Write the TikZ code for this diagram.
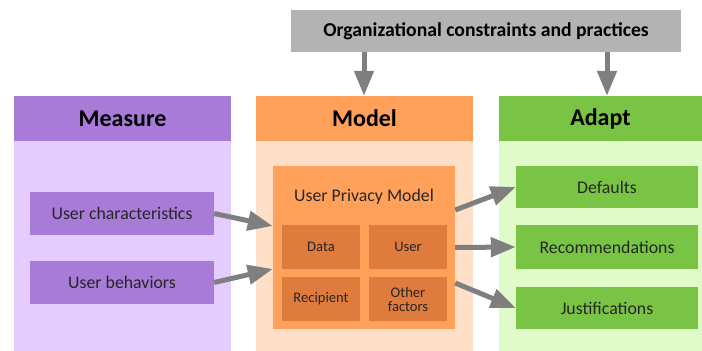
\documentclass[tikz,border=0pt]{standalone}
\usepackage{fontspec}
\setmainfont{Carlito}
\usetikzlibrary{arrows.meta}
\usetikzlibrary{positioning}
\definecolor{measure}{HTML}{A77BD7}
\definecolor{measurebg}{HTML}{E5CCFF}
\definecolor{model}{HTML}{FFA05B}
\definecolor{modelbg}{HTML}{FFDFC8}
\definecolor{modelsub}{HTML}{E07B3E}
\definecolor{adapt}{HTML}{79C445}
\definecolor{adaptbg}{HTML}{E0FAC9}
\definecolor{orgbox}{HTML}{B3B3B3}
\definecolor{flowgray}{HTML}{7F7F7F}

\begin{document}
\begin{tikzpicture}[
                x=1pt, y=-1pt,
                font=\fontsize{17.8}{20}\selectfont,
                box/.style={rectangle, inner sep=0pt, text=black!85, align=center},
                head/.style={box, minimum height=45pt, font=\fontsize{24}{26}\selectfont\bfseries, text=black},
                body/.style={box, minimum height=210pt},
                item/.style={box, minimum width=184pt},
                subitem/.style={box, fill=modelsub, minimum width=78pt, minimum height=44pt,
                font=\fontsize{14.6}{16}\selectfont},
                flow/.style={-{Triangle[length=25pt,width=19pt]}, line width=5pt, flowgray},
                ]

                \useasboundingbox (0,0) rectangle (702,351);

                % ── Columns: header on top, light body below ──
                \node[head, fill=measure, minimum width=217pt] (measurehead) at (122.5,118.5) {Measure};
                \node[body, fill=measurebg, minimum width=217pt] (measurebody) at (122.5,246) {};
                \node[head, fill=model, minimum width=217pt] (modelhead) at (364.5,118.5) {Model};
                \node[body, fill=modelbg, minimum width=217pt] (modelbody) at (364.5,246) {};
                \node[head, fill=adapt, minimum width=203pt] (adapthead) at (600.5,118.5) {Adapt};
                \node[body, fill=adaptbg, minimum width=203pt] (adaptbody) at (600.5,246) {};

                % ── Organizational box ──
                \node[box, fill=orgbox, minimum width=390pt, minimum height=42pt, text=black,
                    font=\fontsize{19.7}{22}\selectfont\bfseries] (org) at (486,31)
                    {Organizational constraints and practices};

                % ── Measure items ──
                \node[item, fill=measure, minimum height=43pt] (userchar) at (122,213.5) {User characteristics};
                \node[item, fill=measure, minimum height=43pt] (userbeh) at (122,282.5) {User behaviors};

                % ── User privacy model ──
                \node[box, fill=model, minimum width=182pt, minimum height=163pt] (upm) at (364,247.5) {};
                \node[box] (upmtitle) at (364,197) {User Privacy Model};
                \node[subitem] (data) at (321,247) {Data};
                \node[subitem] (user) at (408,247) {User};
                \node[subitem] (recipient) at (321,299) {Recipient};
                \node[subitem] (other) at (408,299) {Other\\[-2pt]factors};

                % ── Adapt items ──
                \node[item, fill=adapt, minimum width=182pt, minimum height=42pt] (defaults) at (607,187) {Defaults};
                \node[item, fill=adapt, minimum width=182pt, minimum height=44pt] (recs) at (607,247) {Recommendations};
                \node[item, fill=adapt, minimum width=182pt, minimum height=42pt] (justs) at (607,308) {Justifications};

                % ── Arrows ──
                \draw[flow] (org.south -| upm) -- (upm |- modelhead.north);
                \draw[flow] (org.south -| defaults) -- (defaults |- adapthead.north);

                \draw[flow] (userchar.east) -- ([yshift=21.5pt]upm.west);
                \draw[flow] (userbeh.east) -- ([yshift=-21.5pt]upm.west);

                \draw[flow] ([yshift=37.5pt]upm.east) -- (defaults.west);
                \draw[flow] (upm.east) -- (recs.west);
                \draw[flow] ([yshift=-35.5pt]upm.east) -- (justs.west);

\end{tikzpicture}
\end{document}
